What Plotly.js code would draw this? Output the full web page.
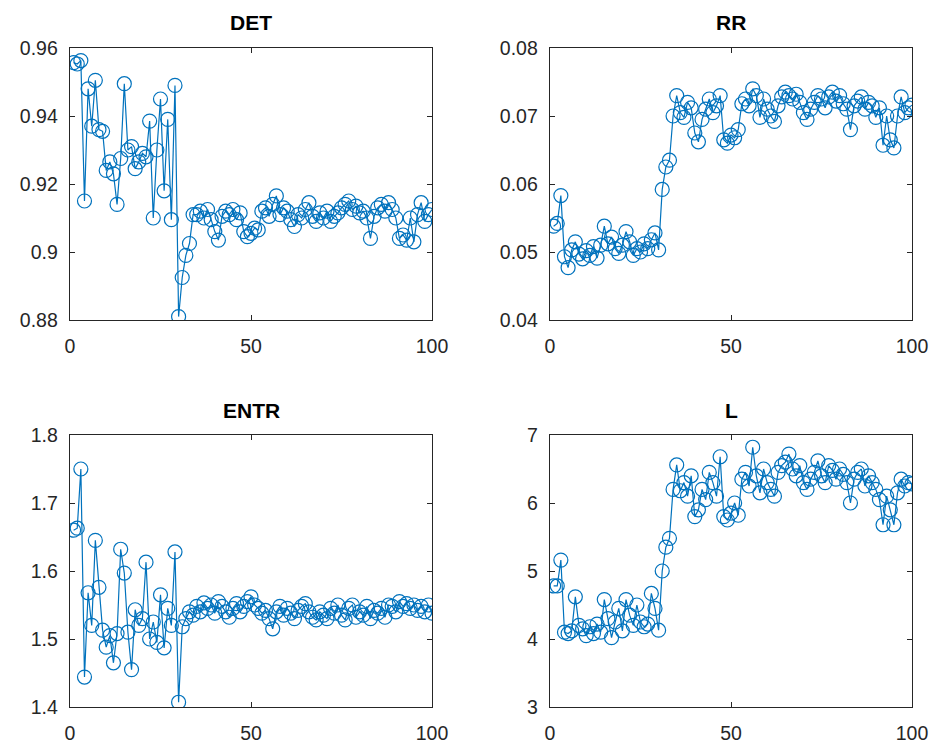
<!DOCTYPE html>
<html>
<head>
<meta charset="utf-8">
<script src="https://cdn.plot.ly/plotly-3.0.1.min.js"></script>
<style>html,body{margin:0;padding:0;background:#fff;}#chart{width:938px;height:749px;}</style>
</head>
<body>
<div id="chart"></div>
<script>
const titles = ["DET", "RR", "ENTR", "L"];

const det = [0.9557,0.9553,0.9563,0.9150,0.9480,0.9370,0.9505,0.9360,0.9355,0.9240,
0.9265,0.9230,0.9140,0.9275,0.9495,0.9300,0.9310,0.9245,0.9265,0.9290,
0.9280,0.9385,0.9100,0.9300,0.9450,0.9180,0.9390,0.9095,0.9490,0.8810,
0.8925,0.8990,0.9025,0.9110,0.9110,0.9120,0.9100,0.9125,0.9095,0.9060,
0.9035,0.9105,0.9120,0.9110,0.9125,0.9095,0.9115,0.9060,0.9045,0.9055,
0.9070,0.9065,0.9120,0.9130,0.9105,0.9140,0.9165,0.9110,0.9130,0.9120,
0.9095,0.9075,0.9110,0.9100,0.9125,0.9145,0.9105,0.9090,0.9115,0.9100,
0.9120,0.9090,0.9105,0.9115,0.9130,0.9140,0.9150,0.9125,0.9135,0.9115,
0.9120,0.9100,0.9040,0.9105,0.9130,0.9140,0.9120,0.9145,0.9125,0.9100,
0.9040,0.9050,0.9035,0.9100,0.9030,0.9110,0.9145,0.9090,0.9110,0.9125];

const rr = [0.0538,0.0542,0.0583,0.0493,0.0477,0.0503,0.0515,0.0497,0.0490,0.0502,
0.0495,0.0508,0.0491,0.0510,0.0538,0.0512,0.0522,0.0505,0.0498,0.0510,
0.0530,0.0515,0.0495,0.0505,0.0500,0.0512,0.0505,0.0518,0.0528,0.0503,
0.0592,0.0625,0.0635,0.0700,0.0730,0.0705,0.0698,0.0720,0.0712,0.0675,
0.0662,0.0695,0.0710,0.0725,0.0705,0.0715,0.0730,0.0665,0.0660,0.0672,
0.0668,0.0680,0.0718,0.0725,0.0715,0.0740,0.0730,0.0698,0.0725,0.0710,
0.0700,0.0692,0.0715,0.0728,0.0735,0.0730,0.0725,0.0732,0.0720,0.0705,
0.0695,0.0710,0.0720,0.0730,0.0725,0.0712,0.0728,0.0735,0.0722,0.0730,
0.0718,0.0710,0.0680,0.0715,0.0722,0.0728,0.0710,0.0720,0.0715,0.0698,
0.0712,0.0657,0.0700,0.0665,0.0653,0.0700,0.0728,0.0705,0.0712,0.0716];

const entr = [1.660,1.663,1.750,1.444,1.568,1.520,1.645,1.576,1.513,1.488,
1.505,1.465,1.508,1.632,1.597,1.510,1.455,1.543,1.520,1.530,
1.613,1.500,1.525,1.495,1.565,1.487,1.545,1.520,1.628,1.407,
1.518,1.530,1.540,1.535,1.548,1.540,1.553,1.545,1.550,1.538,
1.555,1.548,1.540,1.532,1.545,1.552,1.540,1.548,1.555,1.562,
1.550,1.545,1.538,1.542,1.530,1.515,1.540,1.548,1.535,1.545,
1.538,1.530,1.542,1.548,1.552,1.540,1.532,1.528,1.540,1.535,
1.530,1.545,1.538,1.550,1.535,1.528,1.545,1.550,1.532,1.540,
1.535,1.548,1.530,1.542,1.538,1.545,1.532,1.550,1.548,1.540,
1.555,1.548,1.552,1.545,1.550,1.542,1.548,1.540,1.550,1.538];

const lval = [4.78,4.78,5.16,4.10,4.08,4.12,4.62,4.20,4.15,4.05,
4.18,4.08,4.22,4.10,4.58,4.30,4.02,4.25,4.45,4.12,
4.58,4.35,4.20,4.50,4.25,4.18,4.22,4.67,4.45,4.13,
5.00,5.35,5.48,6.20,6.56,6.18,6.30,6.10,6.40,5.80,
5.90,6.20,6.05,6.45,6.30,6.10,6.68,5.80,5.75,5.85,
6.00,5.82,6.35,6.45,6.25,6.82,6.40,6.15,6.50,6.30,
6.20,6.10,6.45,6.55,6.60,6.72,6.50,6.40,6.55,6.30,
6.20,6.35,6.45,6.62,6.40,6.30,6.55,6.48,6.35,6.50,
6.42,6.30,6.00,6.35,6.45,6.50,6.25,6.40,6.30,6.20,
6.05,5.68,6.10,5.90,5.68,6.15,6.35,6.25,6.30,6.28];

const xTicks = [0, 50, 100];
const detTicks = [0.88, 0.9, 0.92, 0.94, 0.96];
const detTickText = ["0.88", "0.9", "0.92", "0.94", "0.96"];
const rrTicks = [0.04, 0.05, 0.06, 0.07, 0.08];
const rrTickText = ["0.04", "0.05", "0.06", "0.07", "0.08"];
const entrTicks = [1.4, 1.5, 1.6, 1.7, 1.8];
const entrTickText = ["1.4", "1.5", "1.6", "1.7", "1.8"];
const lTicks = [3, 4, 5, 6, 7];
const lTickText = ["3", "4", "5", "6", "7"];

const series = [det, rr, entr, lval];
const idx = det.map((_, i) => i + 1);
const color = '#0072BD';

const traces = series.map((s, k) => ({
  x: idx, y: s, type: 'scatter', mode: 'lines+markers',
  xaxis: 'x' + (k === 0 ? '' : k + 1), yaxis: 'y' + (k === 0 ? '' : k + 1),
  line: {color: color, width: 1.2},
  marker: {symbol: 'circle-open', size: 14, color: color, line: {width: 1.2, color: color}},
  hoverinfo: 'none', showlegend: false
}));

const W = 938, H = 749;
const xd = [[70/W, 432/W], [550/W, 912/W]];
const yd = [[1-320/H, 1-48/H], [1-707/H, 1-435/H]];
const font = {family: 'Liberation Sans, Arial, sans-serif', size: 19.5, color: '#262626'};

function xax(dom, anchor) {
  return {domain: dom, anchor: anchor, range: [0, 100], tickvals: xTicks, ticktext: xTicks.map(String),
    ticks: 'inside', ticklen: 5, tickwidth: 1, tickcolor: '#262626', showline: true, linecolor: '#262626', linewidth: 1.3,
    mirror: 'ticks', showgrid: false, zeroline: false, tickfont: font, ticklabelstandoff: 8, fixedrange: true};
}
function yax(dom, anchor, range, tv, tt) {
  return {domain: dom, anchor: anchor, range: range, tickvals: tv, ticktext: tt,
    ticks: 'inside', ticklen: 5, tickwidth: 1, tickcolor: '#262626', showline: true, linecolor: '#262626', linewidth: 1.3,
    mirror: 'ticks', showgrid: false, zeroline: false, tickfont: font, ticklabelstandoff: 7, fixedrange: true};
}

const layout = {
  width: W, height: H, margin: {l: 0, r: 0, t: 0, b: 0},
  paper_bgcolor: '#ffffff', plot_bgcolor: '#ffffff',
  xaxis: xax(xd[0], 'y'), yaxis: yax(yd[0], 'x', [0.88, 0.96], detTicks, detTickText),
  xaxis2: xax(xd[1], 'y2'), yaxis2: yax(yd[0], 'x2', [0.04, 0.08], rrTicks, rrTickText),
  xaxis3: xax(xd[0], 'y3'), yaxis3: yax(yd[1], 'x3', [1.4, 1.8], entrTicks, entrTickText),
  xaxis4: xax(xd[1], 'y4'), yaxis4: yax(yd[1], 'x4', [3, 7], lTicks, lTickText),
  annotations: titles.map((t, k) => ({
    text: '<b>' + t + '</b>', xref: 'paper', yref: 'paper',
    x: (xd[k % 2][0] + xd[k % 2][1]) / 2, y: k < 2 ? 1 - 22/H : 1 - 410/H,
    xanchor: 'center', yanchor: 'middle', showarrow: false,
    font: {family: 'Liberation Sans, Arial, sans-serif', size: 21, color: '#000000'}
  }))
};

Plotly.newPlot('chart', traces, layout, {staticPlot: true, displayModeBar: false});
</script>
</body>
</html>
